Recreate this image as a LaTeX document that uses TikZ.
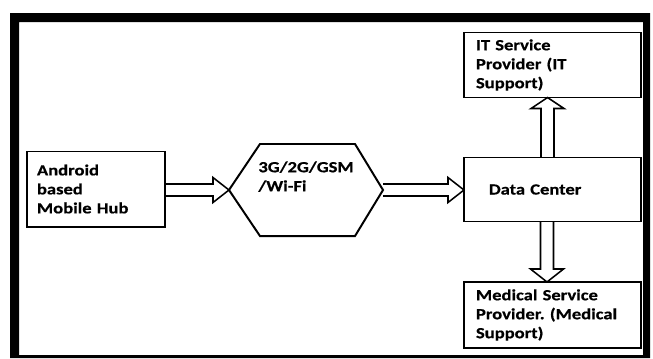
\documentclass[tikz,border=0pt]{standalone}
\usepackage{fontspec}
\setmainfont{Carlito}[FakeStretch=1.2, BoldFeatures={FakeBold=0.6}]
\usepackage{tikz}
\usetikzlibrary{calc}
\hyphenpenalty=10000
\frenchspacing

\begin{document}
\begin{tikzpicture}[x=0.025cm, y=-0.025cm,
	box/.style={draw, line width=1.4pt, align=left, outer sep=0pt,
		font=\fontsize{11}{13.5}\selectfont\bfseries},
	hollow/.style={draw, line width=1.1pt, line join=miter}]
			\useasboundingbox (0,0) rectangle (653,358);
			% black frame round the picture
			\fill[black, even odd rule] (10,13) rectangle (650,358) (19,22) rectangle (643,355);

			\node[box, text width=2.95cm, inner xsep=0.25cm, minimum height=1.875cm] (hub) at (96,189) {Android\\based\\Mobile Hub};
			\node[box, draw=none, minimum width=3.85cm, minimum height=2.3cm] (net) at ($(hub)+(210,1)$) {3G/2G/GSM\\/Wi-Fi\\[6pt]};
			\node[box, text width=3.175cm, inner xsep=0.625cm, minimum height=1.6cm] (dc) at ($(net)+(246.5,-0.5)$) {Data Center};
			\node[box, text width=3.825cm, inner xsep=0.3cm, minimum height=1.625cm] (it) at ($(dc)+(0,-124.5)$) {IT Service\\Provider (IT\\Support)};
			\node[box, text width=3.825cm, inner xsep=0.3cm, minimum height=1.65cm] (med) at ($(dc)+(0,125.5)$) {Medical Service\\Provider. (Medical\\Support)};

			% hexagon round the network node
			\draw[line width=1.4pt, line join=miter] (net.west) -- ($(net.north west)+(31,0)$) -- ($(net.north east)+(-28,0)$) -- (net.east) -- ($(net.south east)+(-28,0)$) -- ($(net.south west)+(31,0)$) -- cycle;

			% hollow arrows
			\draw[hollow] ($(hub.east |- net.west)+(0,-6)$) -- ($(net.west)+(-16,-6)$) -- ($(net.west)+(-16,-12.5)$) -- (net.west) -- ($(net.west)+(-16,12.5)$) -- ($(net.west)+(-16,6)$) -- ($(hub.east |- net.west)+(0,6)$);
			\draw[hollow] ($(net.east)+(0,-6)$) -- ($(dc.west |- net.east)+(-16,-6)$) -- ($(dc.west |- net.east)+(-16,-12.5)$) -- (dc.west |- net.east) -- ($(dc.west |- net.east)+(-16,12.5)$) -- ($(dc.west |- net.east)+(-16,6)$) -- ($(net.east)+(0,6)$);
			\draw[hollow] ($(dc.north)+(-11.5,0)$) -- ($(it.south)+(-11.5,11)$) -- ($(it.south)+(-21.5,11)$) -- ($(it.south)+(-5,0)$) -- ($(it.south)+(11.5,11)$) -- ($(it.south)+(1.5,11)$) -- ($(dc.north)+(1.5,0)$);
			\draw[hollow] ($(dc.south)+(-12,0)$) -- ($(med.north)+(-12,-13)$) -- ($(med.north)+(-22,-13)$) -- ($(med.north)+(-5.5,0)$) -- ($(med.north)+(11,-13)$) -- ($(med.north)+(1,-13)$) -- ($(dc.south)+(1,0)$);
		\end{tikzpicture}
\end{document}
